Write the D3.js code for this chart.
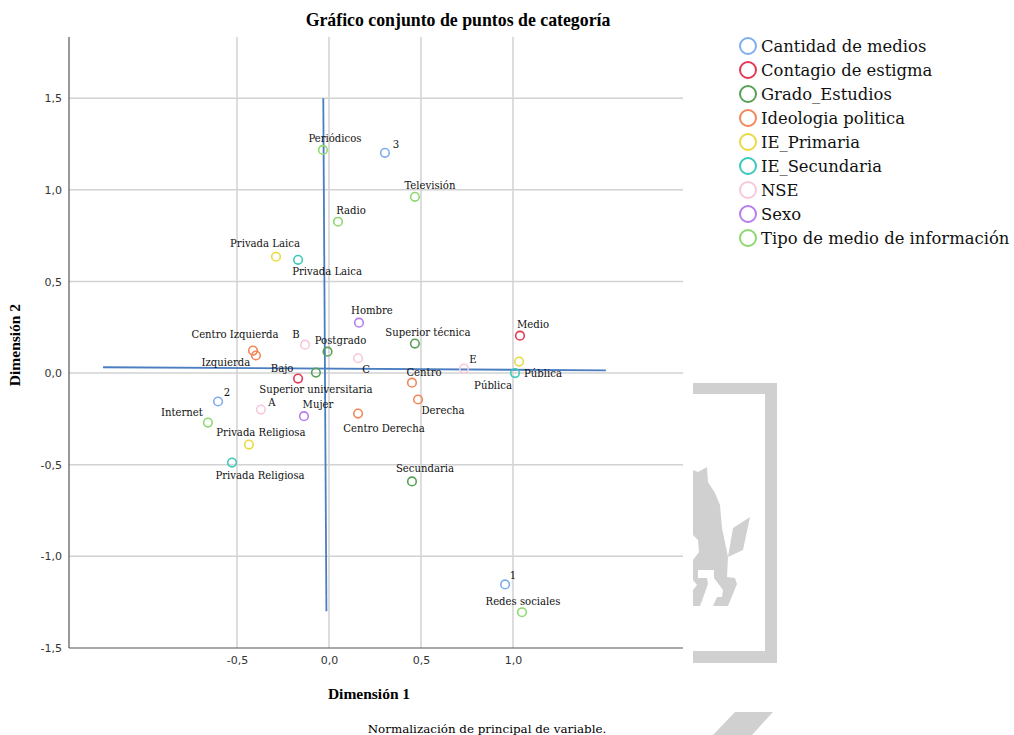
<!DOCTYPE html>
<html>
<head>
<meta charset="utf-8">
<script src="https://cdn.jsdelivr.net/npm/d3@7"></script>
<style>
  html, body { margin: 0; padding: 0; background: #fff; }
  svg { display: block; }
</style>
</head>
<body>
<svg id="chart" width="1014" height="735"></svg>
<script>
// Category groups (legend order) and their colours
const groups = [
  "Cantidad de medios",
  "Contagio de estigma",
  "Grado_Estudios",
  "Ideologia politica",
  "IE_Primaria",
  "IE_Secundaria",
  "NSE",
  "Sexo",
  "Tipo de medio de información"
];
const groupColors = [
  "#7eaef0", "#e23a55", "#57a257", "#f2875a", "#e9da45",
  "#3cc8bc", "#f8c8dc", "#b57ef0", "#8fd870"
];

// Category point coordinates (Dimensión 1, Dimensión 2)
const cantidadMedios = [
  { name: "3", d1: 0.304, d2: 1.202 },
  { name: "2", d1: -0.603, d2: -0.155 },
  { name: "1", d1: 0.957, d2: -1.153 }
];
const contagioEstigma = [
  { name: "Medio", d1: 1.038, d2: 0.204 },
  { name: "Bajo", d1: -0.168, d2: -0.030 }
];
const gradoEstudios = [
  { name: "Superior técnica", d1: 0.467, d2: 0.161 },
  { name: "Postgrado", d1: -0.008, d2: 0.117 },
  { name: "Superior universitaria", d1: -0.071, d2: 0.003 },
  { name: "Secundaria", d1: 0.451, d2: -0.591 }
];
const ideologia = [
  { name: "Centro Izquierda", d1: -0.413, d2: 0.123 },
  { name: "Izquierda", d1: -0.397, d2: 0.096 },
  { name: "Centro", d1: 0.451, d2: -0.052 },
  { name: "Derecha", d1: 0.484, d2: -0.144 },
  { name: "Centro Derecha", d1: 0.158, d2: -0.221 }
];
const iePrimaria = [
  { name: "Privada Laica", d1: -0.288, d2: 0.635 },
  { name: "Pública", d1: 1.033, d2: 0.063 },
  { name: "Privada Religiosa", d1: -0.435, d2: -0.390 }
];
const ieSecundaria = [
  { name: "Privada Laica", d1: -0.168, d2: 0.618 },
  { name: "Pública", d1: 1.011, d2: 0.000 },
  { name: "Privada Religiosa", d1: -0.527, d2: -0.488 }
];
const nse = [
  { name: "B", d1: -0.130, d2: 0.155 },
  { name: "C", d1: 0.158, d2: 0.081 },
  { name: "E", d1: 0.734, d2: 0.025 },
  { name: "A", d1: -0.370, d2: -0.199 }
];
const sexo = [
  { name: "Hombre", d1: 0.163, d2: 0.275 },
  { name: "Mujer", d1: -0.136, d2: -0.235 }
];
const tipoMedio = [
  { name: "Periódicos", d1: -0.033, d2: 1.218 },
  { name: "Televisión", d1: 0.467, d2: 0.962 },
  { name: "Radio", d1: 0.049, d2: 0.826 },
  { name: "Internet", d1: -0.658, d2: -0.270 },
  { name: "Redes sociales", d1: 1.049, d2: -1.305 }
];
const seriesByGroup = [
  cantidadMedios, contagioEstigma, gradoEstudios, ideologia,
  iePrimaria, ieSecundaria, nse, sexo, tipoMedio
];

// Fitted reference lines (start and end in dimension units)
const refLineH = [{ d1: -1.228, d2: 0.032 }, { d1: 1.505, d2: 0.015 }];
const refLineV = [{ d1: -0.031, d2: 1.5 }, { d1: -0.014, d2: -1.30 }];

// Axis ticks
const xTicks = [-0.5, 0.0, 0.5, 1.0];
const yTicks = [-1.5, -1.0, -0.5, 0.0, 0.5, 1.0, 1.5];

// Label placement (pixel offsets of each label's centre from its point)
const labelOffsets = {
  "Cantidad de medios|3": [11, -9],
  "Cantidad de medios|2": [9, -10],
  "Cantidad de medios|1": [8, -9],
  "Contagio de estigma|Medio": [13, -12],
  "Contagio de estigma|Bajo": [-16, -11],
  "Grado_Estudios|Superior técnica": [13, -12],
  "Grado_Estudios|Postgrado": [13, -12],
  "Grado_Estudios|Superior universitaria": [0, 16],
  "Grado_Estudios|Secundaria": [13, -13],
  "Ideologia politica|Centro Izquierda": [-18, -17],
  "Ideologia politica|Izquierda": [-30, 6],
  "Ideologia politica|Centro": [12, -11],
  "Ideologia politica|Derecha": [25, 11],
  "Ideologia politica|Centro Derecha": [26, 14],
  "IE_Primaria|Privada Laica": [-11, -14],
  "IE_Primaria|Pública": [-26, 23],
  "IE_Primaria|Privada Religiosa": [12, -13],
  "IE_Secundaria|Privada Laica": [29, 11],
  "IE_Secundaria|Pública": [28, 0],
  "IE_Secundaria|Privada Religiosa": [28, 12],
  "NSE|B": [-9, -11],
  "NSE|C": [8, 11],
  "NSE|E": [9, -10],
  "NSE|A": [11, -8],
  "Sexo|Hombre": [13, -13],
  "Sexo|Mujer": [14, -12],
  "Tipo de medio de información|Periódicos": [12, -12],
  "Tipo de medio de información|Televisión": [15, -12],
  "Tipo de medio de información|Radio": [13, -12],
  "Tipo de medio de información|Internet": [-26, -11],
  "Tipo de medio de información|Redes sociales": [1, -11]
};

const svg = d3.select("#chart");
const plot = { left: 69, right: 683, top: 37, bottom: 648 };

const x = d3.scaleLinear().domain([-1.413, 1.924]).range([plot.left, plot.right]);
const y = d3.scaleLinear().domain([-1.5, 1.834]).range([plot.bottom, plot.top]);
const color = d3.scaleOrdinal().domain(groups).range(groupColors);

const serif = "'Liberation Serif', 'DejaVu Serif', serif";
const wideSerif = "'DejaVu Serif', 'Liberation Serif', serif";
const sans = "'DejaVu Sans', 'Liberation Sans', sans-serif";

// Logo mark in the lower right
const logo = svg.append("g").attr("fill", "#d0d0d0");
logo.append("path").attr("d",
  "M693,383 H777 V663 H693 V651 H765 V394 H693 Z");
logo.append("path").attr("d",
  "M693,470 L698,472 L707,467 L708,482 L715,493 L720,505 L722,528 L728,557 " +
  "L733,528 L750,517 L743,550 L728,557 L727,577 L735,578 L737,584 L728,606 " +
  "L713,606 L717,597 L722,597 L723,590 L714,578 L714,570 L698,570 L698,578 " +
  "L707,578 L708,584 L700,606 L693,606 L693,590 L697,585 L693,580 L693,560 " +
  "L699,552 L698,540 L693,535 Z");
logo.append("path").attr("d", "M735,712 L773,712 L752,735 L713,735 Z");

// Grid lines
const grid = svg.append("g").attr("stroke", "#d2d2d2").attr("stroke-width", 1.5);
grid.selectAll("line.h").data(yTicks.filter(v => v > -1.5)).join("line")
  .attr("x1", plot.left).attr("x2", plot.right)
  .attr("y1", d => y(d)).attr("y2", d => y(d));
grid.selectAll("line.v").data(xTicks).join("line")
  .attr("x1", d => x(d)).attr("x2", d => x(d))
  .attr("y1", plot.top).attr("y2", plot.bottom);

// Axes
const fmt = d => d3.format(".1f")(d).replace(".", ",").replace("−", "-");
const xAxis = d3.axisBottom(x).tickValues(xTicks).tickSize(0).tickPadding(8).tickFormat(fmt);
const yAxis = d3.axisLeft(y).tickValues(yTicks).tickSize(0).tickPadding(7).tickFormat(fmt);

const gx = svg.append("g").attr("transform", `translate(0,${plot.bottom})`).call(xAxis);
gx.select(".domain").attr("stroke", "#555").attr("stroke-width", 1.2)
  .attr("d", `M${plot.left},0H${plot.right}`);
gx.selectAll("text").attr("font-family", sans).attr("font-size", 11).attr("fill", "#333");

const gy = svg.append("g").attr("transform", `translate(${plot.left},0)`).call(yAxis);
gy.select(".domain").attr("stroke", "#555").attr("stroke-width", 1.2)
  .attr("d", `M0,${plot.top}V${plot.bottom}`);
gy.selectAll("text").attr("font-family", sans).attr("font-size", 11).attr("fill", "#333");

// Reference lines
const line = d3.line().x(d => x(d.d1)).y(d => y(d.d2));
svg.append("path").datum(refLineH).attr("d", line)
  .attr("fill", "none").attr("stroke", "#4a7ec0").attr("stroke-width", 1.8);
svg.append("path").datum(refLineV).attr("d", line)
  .attr("fill", "none").attr("stroke", "#4a7ec0").attr("stroke-width", 1.8);

// Points and labels
const allPoints = seriesByGroup.flatMap((s, i) =>
  s.map(p => ({ ...p, group: groups[i] })));

svg.append("g").selectAll("circle").data(allPoints).join("circle")
  .attr("cx", d => x(d.d1)).attr("cy", d => y(d.d2)).attr("r", 4.3)
  .attr("fill", "none").attr("stroke", d => color(d.group)).attr("stroke-width", 1.6);

svg.append("g").selectAll("text").data(allPoints).join("text")
  .attr("x", d => x(d.d1) + labelOffsets[d.group + "|" + d.name][0])
  .attr("y", d => y(d.d2) + labelOffsets[d.group + "|" + d.name][1] + 4)
  .attr("text-anchor", "middle")
  .attr("font-family", wideSerif).attr("font-size", 10.1).attr("fill", "#111")
  .text(d => d.name);

// Title and axis titles
svg.append("text").attr("x", 458).attr("y", 26).attr("text-anchor", "middle")
  .attr("font-family", serif).attr("font-weight", "bold").attr("font-size", 17.8)
  .text("Gráfico conjunto de puntos de categoría");
svg.append("text").attr("x", 369).attr("y", 699).attr("text-anchor", "middle")
  .attr("font-family", serif).attr("font-weight", "bold").attr("font-size", 15.5)
  .text("Dimensión 1");
svg.append("text").attr("transform", "translate(20,345) rotate(-90)")
  .attr("text-anchor", "middle")
  .attr("font-family", serif).attr("font-weight", "bold").attr("font-size", 15.5)
  .text("Dimensión 2");
svg.append("text").attr("x", 487).attr("y", 733).attr("text-anchor", "middle")
  .attr("font-family", wideSerif).attr("font-size", 11.9)
  .text("Normalización de principal de variable.");

// Legend
const legend = svg.append("g").attr("transform", "translate(748,46)");
const items = legend.selectAll("g").data(groups).join("g")
  .attr("transform", (d, i) => `translate(0,${i * 24})`);
items.append("circle").attr("r", 8).attr("fill", "none")
  .attr("stroke", d => color(d)).attr("stroke-width", 2);
items.append("text").attr("x", 13).attr("y", 6)
  .attr("font-family", wideSerif).attr("font-size", 16.4).attr("fill", "#111")
  .text(d => d);
</script>
</body>
</html>
